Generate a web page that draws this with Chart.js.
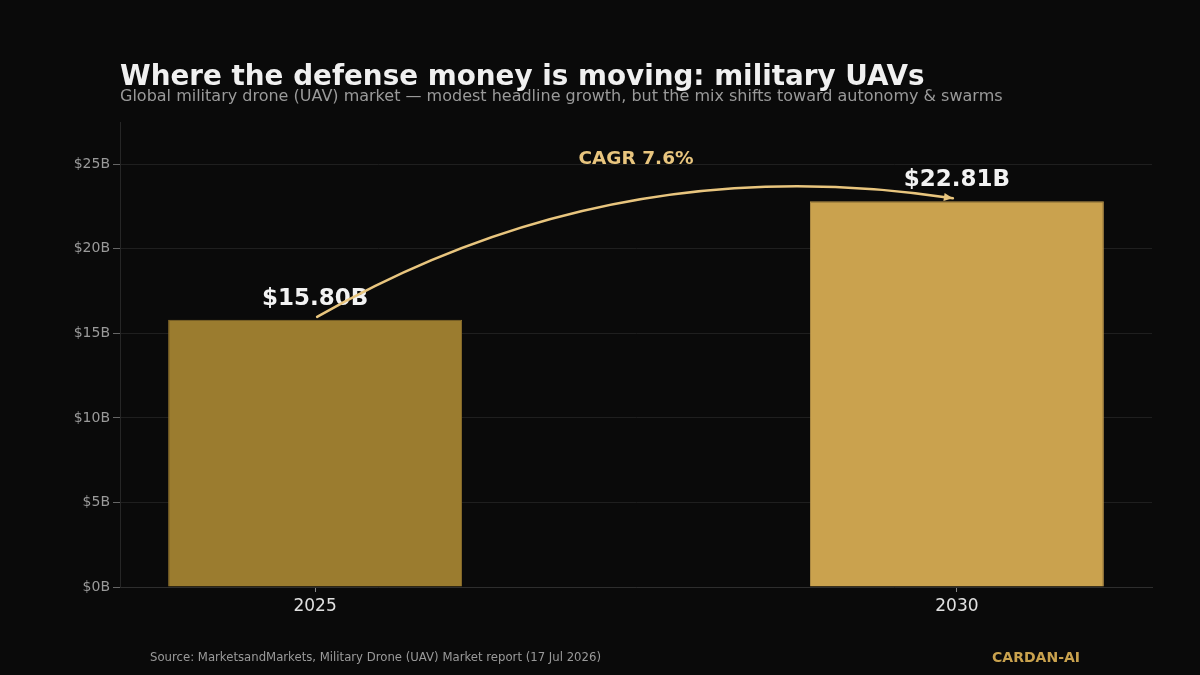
<!DOCTYPE html>
<html><head><meta charset="utf-8">
<script src="https://cdn.jsdelivr.net/npm/chart.js@4.4.1/dist/chart.umd.min.js"></script>
<style>html,body{margin:0;padding:0;background:#0a0a0a;}#wrap{width:1200px;height:675px;position:relative}</style>
</head><body><div id="wrap"><canvas id="c" width="1200" height="675"></canvas></div>
<script>
const years = [2025, 2030];
const marketSize = [15.80, 22.81];
const valueLabels = ['$15.80B', '$22.81B'];
const yTickValues = [0, 5, 10, 15, 20, 25];
const xTickValues = [2025, 2030];
const barColors = ['#9B7C2F', '#CAA24E'];
const cagrText = 'CAGR 7.6%';
const titleText = 'Where the defense money is moving: military UAVs';
const subtitleText = 'Global military drone (UAV) market \u2014 modest headline growth, but the mix shifts toward autonomy & swarms';
const sourceText = 'Source: MarketsandMarkets, Military Drone (UAV) Market report (17 Jul 2026)';
const brandText = 'CARDAN-AI';

const FONT = "'DejaVu Sans', sans-serif";
Chart.defaults.font.family = FONT;

const decor = {
  id: 'decor',
  afterDraw(chart) {
    const ctx = chart.ctx;
    const xs = chart.scales.x, ys = chart.scales.y;
    ctx.save();
    ctx.textBaseline = 'alphabetic';
    ctx.textAlign = 'left';
    ctx.fillStyle = '#F0F0F0';
    ctx.font = "bold 27.8px " + FONT;
    ctx.fillText(titleText, 120, 85);
    ctx.fillStyle = '#9A9A9A';
    ctx.font = "16px " + FONT;
    ctx.fillText(subtitleText, 120, 101);
    ctx.textBaseline = 'middle';
    ctx.font = "11.7px " + FONT;
    ctx.fillStyle = '#9A9A9A';
    ctx.fillText(sourceText, 150, 658);
    ctx.font = "bold 14px " + FONT;
    ctx.fillStyle = '#C9A24E';
    ctx.textAlign = 'right';
    ctx.fillText(brandText, 1080, 658);
    ctx.textAlign = 'center';
    ctx.fillStyle = '#F2F2F2';
    ctx.font = "bold 23px " + FONT;
    years.forEach((yr, i) => {
      ctx.fillText(valueLabels[i], xs.getPixelForValue(yr), ys.getPixelForValue(marketSize[i]) - 21);
    });
    const x0 = xs.getPixelForValue(years[0]) + 2, y0 = ys.getPixelForValue(marketSize[0]) - 3;
    const x1 = xs.getPixelForValue(years[1]) - 4, y1 = ys.getPixelForValue(marketSize[1]) - 3;
    const dx = x1 - x0, dy = y1 - y0, rad = 0.175;
    const cx = (x0 + x1) / 2 + rad * dy, cy = (y0 + y1) / 2 - rad * dx;
    ctx.strokeStyle = '#E8C57E';
    ctx.fillStyle = '#E8C57E';
    ctx.lineWidth = 2.5;
    ctx.lineCap = 'round';
    ctx.beginPath();
    ctx.moveTo(x0, y0);
    ctx.quadraticCurveTo(cx, cy, x1, y1);
    ctx.stroke();
    const ang = Math.atan2(y1 - cy, x1 - cx);
    const L = 9, W = 4;
    ctx.beginPath();
    ctx.moveTo(x1, y1);
    ctx.lineTo(x1 - L * Math.cos(ang) + W * Math.sin(ang), y1 - L * Math.sin(ang) - W * Math.cos(ang));
    ctx.lineTo(x1 - L * Math.cos(ang) - W * Math.sin(ang), y1 - L * Math.sin(ang) + W * Math.cos(ang));
    ctx.closePath();
    ctx.fill();
    ctx.font = "bold 18.5px " + FONT;
    ctx.fillStyle = '#E8C57E';
    ctx.fillText(cagrText, (xs.getPixelForValue(years[0]) + xs.getPixelForValue(years[1])) / 2, ys.getPixelForValue(25.3));
    ctx.restore();
  }
};

const bg = {
  id: 'bg',
  beforeDraw(chart) {
    const ctx = chart.ctx;
    ctx.save();
    ctx.fillStyle = '#0A0A0A';
    ctx.fillRect(0, 0, chart.width, chart.height);
    ctx.restore();
  }
};

new Chart(document.getElementById('c'), {
  type: 'bar',
  data: {
    datasets: [{
      data: years.map((yr, i) => ({ x: yr, y: marketSize[i] })),
      backgroundColor: barColors,
      borderColor: ['#8A6E2C', '#B8934A'],
      borderWidth: 1,
      barPercentage: 0.458,
      categoryPercentage: 1.0
    }]
  },
  options: {
    responsive: false,
    devicePixelRatio: 1,
    animation: false,
    layout: { padding: { top: 122, right: 48, left: 0, bottom: 0 } },
    plugins: { legend: { display: false }, tooltip: { enabled: false }, title: { display: false } },
    scales: {
      x: {
        type: 'linear',
        offset: false,
        min: 2023.48,
        max: 2031.52,
        afterBuildTicks: s => { s.ticks = xTickValues.map(v => ({ value: v })); },
        afterFit: s => { s.height = 88; },
        ticks: { color: '#E0E0E0', font: { size: 17 }, padding: 4, callback: v => String(v), autoSkip: false, maxRotation: 0 },
        grid: { offset: false, drawOnChartArea: false, drawTicks: true, tickLength: 5, tickColor: '#888', color: '#888' },
        border: { display: true, color: '#2E2E2E' }
      },
      y: {
        min: 0,
        max: 27.5,
        afterBuildTicks: s => { s.ticks = yTickValues.map(v => ({ value: v })); },
        afterFit: s => { s.width = 120; },
        ticks: { color: '#9A9A9A', font: { size: 14 }, padding: 3, callback: v => '$' + v + 'B' },
        grid: { color: '#1F1F1F', tickColor: '#666', tickLength: 7, lineWidth: 1 },
        border: { display: true, color: '#262626' }
      }
    }
  },
  plugins: [bg, decor]
});
</script>
</body></html>
